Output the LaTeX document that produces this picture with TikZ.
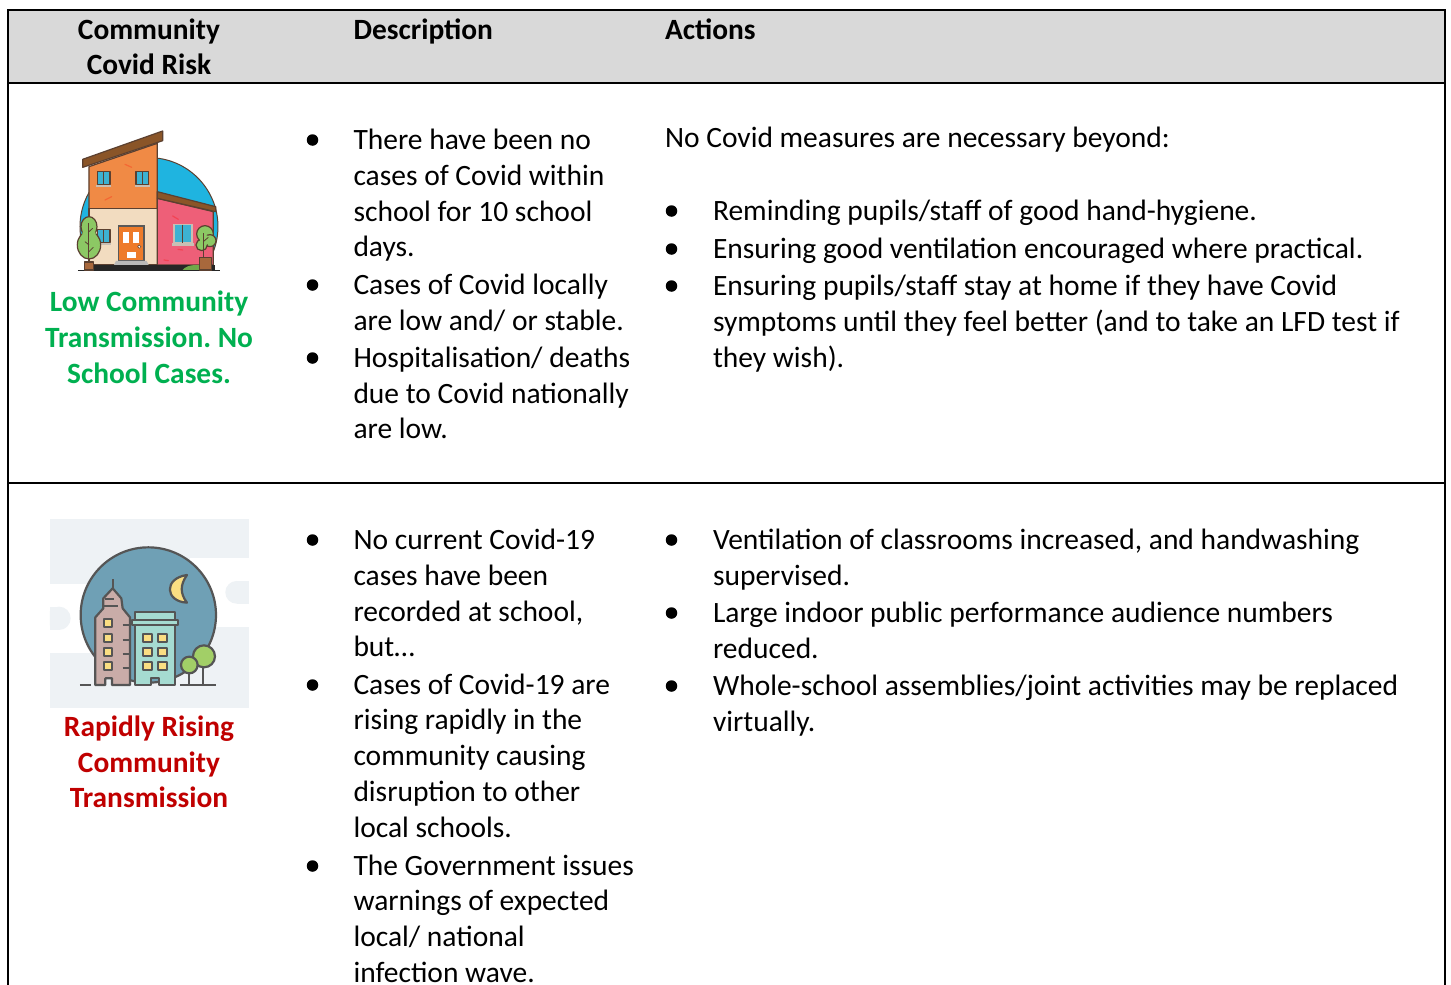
\documentclass[tikz,border=0pt]{standalone}
\usepackage{fontspec}
\setmainfont{Carlito}
\frenchspacing
\definecolor{hdr}{HTML}{D9D9D9}
\definecolor{lowgreen}{HTML}{00B050}
\definecolor{risered}{HTML}{C00000}
\definecolor{hline}{HTML}{5B4030}
\definecolor{bline}{HTML}{555555}
\definecolor{hsky}{HTML}{1FB4E0}
\definecolor{horange}{HTML}{F08A45}
\definecolor{hcream}{HTML}{F2DCC0}
\definecolor{hpink}{HTML}{EE5F78}
\definecolor{hroof}{HTML}{8A5528}
\definecolor{hwin}{HTML}{3DB2D2}
\definecolor{hdoor}{HTML}{EE7B2A}
\definecolor{hleaf}{HTML}{8CC864}
\definecolor{hpot}{HTML}{A8683C}
\definecolor{hsill}{HTML}{C9BFB4}
\definecolor{hgrass}{HTML}{6FA84A}
\definecolor{cbg}{HTML}{EEF2F5}
\definecolor{csky}{HTML}{6FA0B5}
\definecolor{cyellow}{HTML}{FADE82}
\definecolor{cpink}{HTML}{C9ACA8}
\definecolor{cteal}{HTML}{A5DBD1}
\definecolor{cleaf}{HTML}{A2CF67}
\tikzset{
  tl/.style={anchor=base west,inner sep=0pt,outer sep=0pt,font=\fontsize{29.5pt}{32pt}\selectfont,text=black},
  hl/.style={anchor=base,inner sep=0pt,outer sep=0pt,font=\fontsize{29.4pt}{32pt}\selectfont\bfseries},
  hw/.style={anchor=base west,inner sep=0pt,outer sep=0pt,font=\fontsize{29.4pt}{32pt}\selectfont\bfseries},
  bul/.style={circle,fill=black,inner sep=0pt,minimum size=11.5pt},
  rule/.style={line width=2.2pt,black},
  hs/.style={draw=hline,line width=1.2pt,line join=round},
  bs/.style={draw=bline,line width=2.2pt,line join=round},
  brick/.style={line width=1.2pt,line cap=round},
}
\begin{document}
\begin{tikzpicture}[x=1pt,y=-1pt]
\useasboundingbox (0,0) rectangle (1451,985);
\fill[white] (0,0) rectangle (1451,985);
% header band and table rules
\fill[hdr] (8,10) rectangle (1445,83);
\coordinate (tl) at (8,10); \coordinate (tr) at (1445,10);
\coordinate (ml) at (8,83); \coordinate (mr) at (1445,83);
\coordinate (rl) at (8,483); \coordinate (rr) at (1445,483);
\coordinate (bl) at (8,985); \coordinate (br) at (1445,985);
\draw[rule] (ml) -- (mr);
\draw[rule] (rl) -- (rr);
\draw[rule,line cap=rect] (bl) -- (tl) -- (tr) -- (br);
% header
\node[hl] (h1a) at (149,39) {Community};
\node[hl] (h1b) at (149,74) {Covid Risk};
\node[hw] (h2) at (353.5,39) {Description};
\node[hw] (h3) at (665,39) {Actions};

% ---- house
\begin{scope}[shift={(40,110)},x=0.3333pt,y=-0.3333pt]
  \begin{scope}
    \clip (100,130) rectangle (540,430);
    \path[draw=hline,fill=hsky,line width=1pt] (327,350) circle (207);
  \end{scope}
  \path[hs,fill=horange] (147,170) -- (352,100) -- (352,296) -- (147,296) -- cycle;
  \path[hs,fill=hcream] (147,296) -- (352,296) -- (352,465) -- (147,465) -- cycle;
  \path[hs,fill=hpink] (352,265) -- (520,305) -- (520,465) -- (352,465) -- cycle;
  \path[hs,fill=hroof] (128,148) -- (368,63) -- (368,92) -- (128,172) -- cycle;
  \path[hs,fill=hroof] (352,245) -- (527,290) -- (527,305) -- (352,265) -- cycle;
  % bricks
  \draw[brick,horange!75!red] (255,163) -- (275,172);
  \draw[brick,horange!75!red] (195,270) -- (215,260);
  \draw[brick,hpink!70!red] (398,318) -- (415,328);
  \draw[brick,hpink!70!red] (414,418) -- (428,420);
  \draw[brick,hpink!70!red] (372,450) -- (385,452);
  % upper windows
  \foreach \wx in {172,288}{
    \path[hs,fill=hwin] (\wx,184) rectangle (\wx+38,224);
    \draw[hline,line width=1pt] (\wx+19,184) -- (\wx+19,224);
    \fill[hsill] (\wx-3,224) rectangle (\wx+41,232);
  }
  % lower-left window
  \path[hs,fill=hwin] (172,358) rectangle (210,398);
  \draw[hline,line width=1pt] (191,358) -- (191,398);
  \fill[hsill] (169,398) rectangle (214,405);
  % pink window
  \path[draw=hsill,line width=1.2pt,fill=hwin] (402,344) rectangle (456,398);
  \draw[hline,line width=1pt] (429,344) -- (429,398);
  \fill[hsill] (395,398) rectangle (462,408);
  % door
  \path[draw=gray!70!black,line width=1.4pt,fill=hdoor] (236,348) rectangle (312,453);
  \fill[white] (250,367) rectangle (268,400);
  \fill[white] (280,367) rectangle (298,400);
  \fill[white] (260,425) rectangle (288,445);
  \path[fill=white,draw=hline,line width=.5pt] (298,410) circle (5);
  \fill[gray!55] (228,453) -- (320,453) -- (326,465) -- (222,465) -- cycle;
  % ground
  \fill[gray!30!black] (160,466) rectangle (525,480);
  \draw[gray!30!black,line width=1pt] (114,481) -- (540,481);
  \fill[hgrass] (428,480) .. controls (440,462) and (490,458) .. (500,480) -- cycle;
  % left tree
  \path[hs,fill=hleaf] (147,350) ellipse (24 and 30);
  \path[hs,fill=hleaf] (147,405) ellipse (35 and 42);
  \fill[hleaf] (147,372) ellipse (20 and 22);
  \draw[hline,line width=1pt] (147,340) -- (147,456);
  \draw[hline,line width=.8pt] (147,365) -- (158,355);
  \draw[hline,line width=.8pt] (147,405) -- (135,395);
  \draw[hline,line width=.8pt] (147,425) -- (160,412);
  \path[hs,fill=hpot] (133,456) rectangle (161,480);
  % right tree
  \path[hs,fill=hleaf] (495,372) circle (25);
  \path[hs,fill=hleaf] (510,392) circle (18);
  \path[hs,fill=hleaf] (485,405) circle (17);
  \fill[hleaf] (495,390) circle (16);
  \draw[hline,line width=1pt] (490,370) -- (490,442);
  \draw[hline,line width=.8pt] (490,395) -- (505,382);
  \path[hs,fill=hpot] (478,443) rectangle (514,480);
\end{scope}

% ---- city
\begin{scope}[shift={(40,510)},x=0.3333pt,y=-0.3333pt]
  \fill[cbg] (30,27) rectangle (627,593);
  \fill[white] (30,222) rectangle (200,430);
  \fill[white] (450,145) rectangle (627,350);
  \fill[cbg] (30,290) rectangle (57,360);
  \begin{scope}
    \clip (30,27) rectangle (627,593);
    \fill[cbg] (57,325) circle (35);
  \end{scope}
  \fill[cbg] (590,213) rectangle (627,281);
  \fill[cbg] (590,247) circle (34);
  \path[bs,fill=csky] (325,315) circle (203);
  % moon
  \path[bs,fill=cyellow] (441,195) .. controls (370,205) and (375,275) .. (441,278) .. controls (420,250) and (420,225) .. (441,195) -- cycle;
  % pink tower
  \path[bs,fill=cpink] (166,525) -- (166,322) -- (190,295) -- (190,265) -- (218,235) -- (244,265) -- (248,295) -- (270,322) -- (270,525) -- (216,525) -- (216,505) -- (196,505) -- (196,525) -- cycle;
  \draw[bline,line width=2.2pt] (218,235) -- (218,208);
  \draw[bline,line width=1.8pt] (195,268) -- (222,268);
  \draw[bline,line width=1.8pt] (190,288) -- (235,288);
  \foreach \ty in {340,384,427,469}{
    \path[bs,fill=cyellow] (192,\ty-12) rectangle (216,\ty+12);
    \draw[bline,line width=1.8pt] (248,\ty+5) -- (270,\ty+5);
  }
  % teal block
  \path[bs,fill=cteal] (285,525) -- (285,345) -- (405,345) -- (405,525) -- (357,525) -- (357,503) -- (333,503) -- (333,525) -- cycle;
  \path[bs,fill=cteal] (285,305) rectangle (405,330);
  \path[bs,fill=cteal] (277,330) rectangle (415,346);
  \foreach \cy in {384,427,469}{
    \foreach \cx in {323,368}{
      \path[bs,fill=cyellow] (\cx-13,\cy-12) rectangle (\cx+13,\cy+12);
    }
  }
  % trees and ground
  \draw[bline,line width=2.2pt] (490,470) -- (490,525);
  \draw[bline,line width=2.2pt] (448,490) -- (448,525);
  \path[bs,fill=cleaf] (492,439) circle (33);
  \path[bs,fill=cleaf] (448,465) circle (25);
  \draw[bline,line width=2.2pt] (120,525) -- (153,525);
  \draw[bline,line width=2.2pt] (420,525) -- (528,525);
\end{scope}

% ---- row 1 left
\node[hl,text=lowgreen] (g1) at (149,311.5) {Low Community};
\node[hl,text=lowgreen] (g2) at (149,347.5) {Transmission. No};
\node[hl,text=lowgreen] (g3) at (149,383.5) {School Cases.};
% row 1 description
\node[bul] (b1) at (312.5,140) {};
\node[tl] (d1) at (353.5,149.5) {There have been no};
\node[tl] (d2) at (353.5,185) {cases of Covid within};
\node[tl] (d3) at (353.5,221) {school for 10 school};
\node[tl] (d4) at (353.5,256.5) {days.};
\node[bul] (b2) at (312.5,285) {};
\node[tl] (d5) at (353.5,294.5) {Cases of Covid locally};
\node[tl] (d6) at (353.5,330.5) {are low and/ or stable.};
\node[bul] (b3) at (312.5,358) {};
\node[tl] (d7) at (353.5,367.5) {Hospitalisation/ deaths};
\node[tl] (d8) at (353.5,403.5) {due to Covid nationally};
\node[tl] (d9) at (353.5,438.5) {are low.};
% row 1 actions
\node[tl] (a0) at (665,147.5) {No Covid measures are necessary beyond:};
\node[bul] (c1) at (671.5,211) {};
\node[tl] (a1) at (713,220.5) {Reminding pupils/staff of good hand-hygiene.};
\node[bul] (c2) at (671.5,249) {};
\node[tl] (a2) at (713,258.5) {Ensuring good ventilation encouraged where practical.};
\node[bul] (c3) at (671.5,286) {};
\node[tl] (a3) at (713,295.5) {Ensuring pupils/staff stay at home if they have Covid};
\node[tl] (a4) at (713,331.5) {symptoms until they feel better (and to take an LFD test if};
\node[tl] (a5) at (713,367.5) {they wish).};
% ---- row 2 left
\node[hl,text=risered] (r1) at (149,736.5) {Rapidly Rising};
\node[hl,text=risered] (r2) at (149,772) {Community};
\node[hl,text=risered] (r3) at (149,807.5) {Transmission};
% row 2 description
\node[bul] (b4) at (312.5,540) {};
\node[tl] (e1) at (353.5,549.5) {No current Covid-19};
\node[tl] (e2) at (353.5,585.5) {cases have been};
\node[tl] (e3) at (353.5,621.5) {recorded at school,};
\node[tl] (e4) at (353.5,656.5) {but…};
\node[bul] (b5) at (312.5,685) {};
\node[tl] (e5) at (353.5,694.5) {Cases of Covid-19 are};
\node[tl] (e6) at (353.5,729.5) {rising rapidly in the};
\node[tl] (e7) at (353.5,765.5) {community causing};
\node[tl] (e8) at (353.5,801.5) {disruption to other};
\node[tl] (e9) at (353.5,837.5) {local schools.};
\node[bul] (b6) at (312.5,866) {};
\node[tl] (e10) at (353.5,875.5) {The Government issues};
\node[tl] (e11) at (353.5,910.5) {warnings of expected};
\node[tl] (e12) at (353.5,946.5) {local/ national};
\node[tl] (e13) at (353.5,982) {infection wave.};
% row 2 actions
\node[bul] (c4) at (671.5,540) {};
\node[tl] (f1) at (713,549.5) {Ventilation of classrooms increased, and handwashing};
\node[tl] (f2) at (713,585.5) {supervised.};
\node[bul] (c5) at (671.5,613) {};
\node[tl] (f3) at (713,622.5) {Large indoor public performance audience numbers};
\node[tl] (f4) at (713,658.5) {reduced.};
\node[bul] (c6) at (671.5,686) {};
\node[tl] (f5) at (713,695.5) {Whole-school assemblies/joint activities may be replaced};
\node[tl] (f6) at (713,731.5) {virtually.};
\end{tikzpicture}
\end{document}
